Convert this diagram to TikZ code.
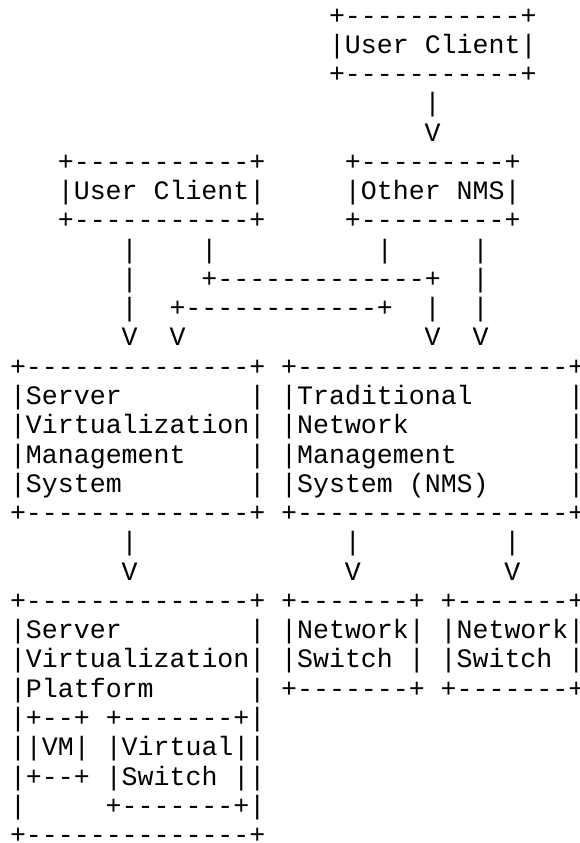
\documentclass[tikz,border=0pt]{standalone}
\usepackage{fontspec}
\setmonofont{Liberation Mono}
\newcommand\diagfont{\ttfamily\fontsize{26.6pt}{29.27pt}\selectfont}
\tikzset{
  ascii/.style={anchor=base west, inner sep=0pt, outer sep=0pt, font=\diagfont, text=black}
}
\begin{document}
\begin{tikzpicture}[x=15.95pt, y=-29.27pt]
% one unit = one character cell; origin = left edge of column 0, baseline of line 0
\useasboundingbox[fill=white] (-0.627,-0.82) rectangle (35.674,27.98);

% top user client
\node[ascii] (ucTopA) at (20,0) {+-----------+};
\node[ascii] (ucTopB) at (20,1) {|User Client|};
\node[ascii] (ucTopC) at (20,2) {+-----------+};
\node[ascii] (ucTopLink) at (26,3) {|};
\node[ascii] (ucTopArrow) at (26,4) {V};

% second row: user client and other NMS
\node[ascii] (ucA) at (3,5) {+-----------+};
\node[ascii] (ucB) at (3,6) {|User Client|};
\node[ascii] (ucC) at (3,7) {+-----------+};
\node[ascii] (nmsA) at (21,5) {+---------+};
\node[ascii] (nmsB) at (21,6) {|Other NMS|};
\node[ascii] (nmsC) at (21,7) {+---------+};

% crossing links
\node[ascii] (l8a) at (7,8) {|};
\node[ascii] (l8b) at (12,8) {|};
\node[ascii] (l8c) at (23,8) {|};
\node[ascii] (l8d) at (29,8) {|};
\node[ascii] (l9a) at (7,9) {|};
\node[ascii] (l9b) at (12,9) {+-------------+};
\node[ascii] (l9c) at (29,9) {|};
\node[ascii] (l10a) at (7,10) {|};
\node[ascii] (l10b) at (10,10) {+------------+};
\node[ascii] (l10c) at (26,10) {|};
\node[ascii] (l10d) at (29,10) {|};
\node[ascii] (v11a) at (7,11) {V};
\node[ascii] (v11b) at (10,11) {V};
\node[ascii] (v11c) at (26,11) {V};
\node[ascii] (v11d) at (29,11) {V};

% server virtualization management system
\node[ascii] (svmA) at (0,12) {+--------------+};
\node[ascii] (svmB) at (0,13) {|Server};
\node[ascii] (svmBr) at (15,13) {|};
\node[ascii] (svmC) at (0,14) {|Virtualization|};
\node[ascii] (svmD) at (0,15) {|Management};
\node[ascii] (svmDr) at (15,15) {|};
\node[ascii] (svmE) at (0,16) {|System};
\node[ascii] (svmEr) at (15,16) {|};
\node[ascii] (svmF) at (0,17) {+--------------+};

% traditional network management system
\node[ascii] (tnmA) at (17,12) {+-----------------+};
\node[ascii] (tnmB) at (17,13) {|Traditional};
\node[ascii] (tnmBr) at (35,13) {|};
\node[ascii] (tnmC) at (17,14) {|Network};
\node[ascii] (tnmCr) at (35,14) {|};
\node[ascii] (tnmD) at (17,15) {|Management};
\node[ascii] (tnmDr) at (35,15) {|};
\node[ascii] (tnmE) at (17,16) {|System (NMS)};
\node[ascii] (tnmEr) at (35,16) {|};
\node[ascii] (tnmF) at (17,17) {+-----------------+};

% downward links
\node[ascii] (l18a) at (7,18) {|};
\node[ascii] (l18b) at (21,18) {|};
\node[ascii] (l18c) at (31,18) {|};
\node[ascii] (v19a) at (7,19) {V};
\node[ascii] (v19b) at (21,19) {V};
\node[ascii] (v19c) at (31,19) {V};

% server virtualization platform
\node[ascii] (svpA) at (0,20) {+--------------+};
\node[ascii] (svpB) at (0,21) {|Server};
\node[ascii] (svpBr) at (15,21) {|};
\node[ascii] (svpC) at (0,22) {|Virtualization|};
\node[ascii] (svpD) at (0,23) {|Platform};
\node[ascii] (svpDr) at (15,23) {|};
\node[ascii] (svpE) at (0,24) {|+--+ +-------+|};
\node[ascii] (svpF) at (0,25) {||VM| |Virtual||};
\node[ascii] (svpG) at (0,26) {|+--+ |Switch ||};
\node[ascii] (svpH) at (0,27) {|};
\node[ascii] (svpHr) at (6,27) {+-------+|};
\node[ascii] (svpI) at (0,28) {+--------------+};

% network switches
\node[ascii] (swaA) at (17,20) {+-------+};
\node[ascii] (swaB) at (17,21) {|Network|};
\node[ascii] (swaC) at (17,22) {|Switch |};
\node[ascii] (swaD) at (17,23) {+-------+};
\node[ascii] (swbA) at (27,20) {+-------+};
\node[ascii] (swbB) at (27,21) {|Network|};
\node[ascii] (swbC) at (27,22) {|Switch |};
\node[ascii] (swbD) at (27,23) {+-------+};
\end{tikzpicture}
\end{document}
